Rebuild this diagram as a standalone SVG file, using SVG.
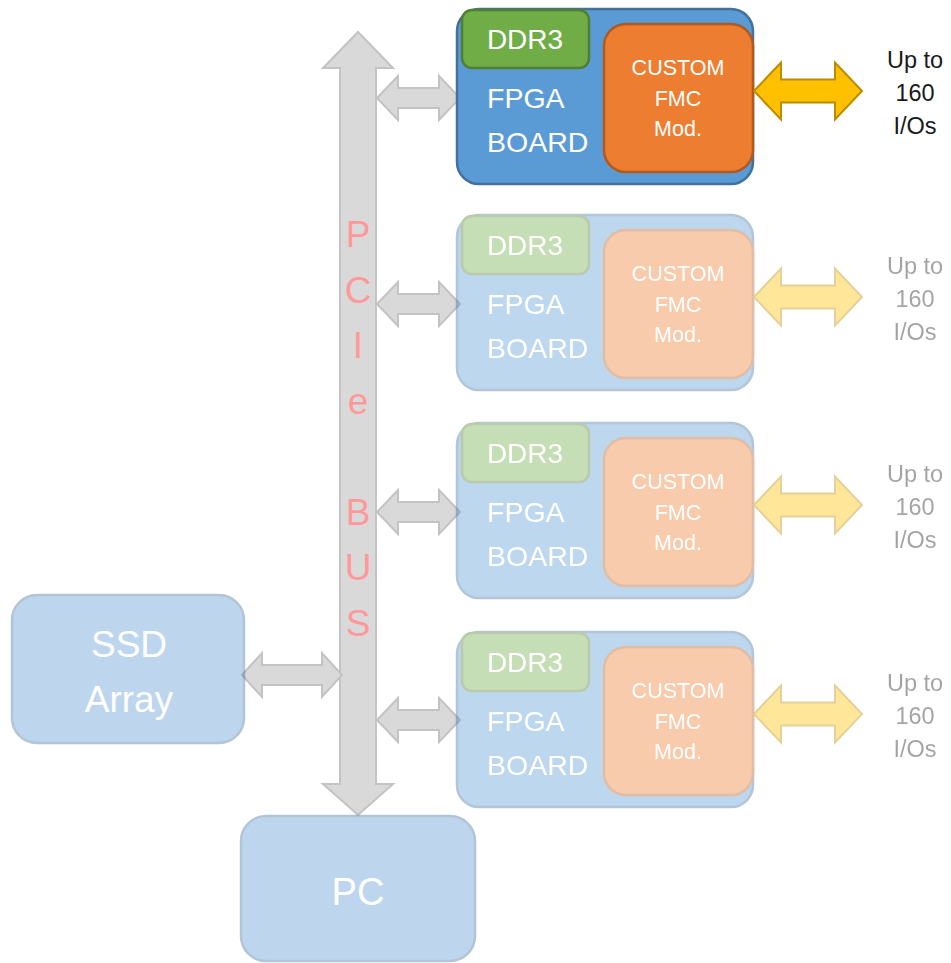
<svg xmlns="http://www.w3.org/2000/svg" width="951" height="963" viewBox="0 0 951 963">
<style>
text{font-family:"Liberation Sans",Arial,sans-serif}
.board{fill:#5b9bd5;stroke:#41719c;stroke-width:2.5}
.ddr{fill:#70ad47;stroke:#507e32;stroke-width:2.5}
.fmc{fill:#ed7d31;stroke:#ae5a21;stroke-width:2.5}
.gray{fill:#d9d9d9;stroke:#c3c3c3;stroke-width:2}
.yel{fill:#ffc000;stroke:#bc8c00;stroke-width:2}
.wt{fill:#ffffff}
.t28{font-size:28.5px}
.t27{font-size:28px}
.t21{font-size:21.5px}
.io{font-size:23.5px;fill:#1a1a1a;text-anchor:middle}
.mid{text-anchor:middle}
.faded{opacity:0.4}
.bus{font-size:37px;fill:#ff9999;text-anchor:middle}
</style>
<defs>
<path id="garrow" d="M0,0 L21,-22 L21,-10 L62,-10 L62,-22 L83,0 L62,22 L62,10 L21,10 L21,22 Z"/>
<path id="sarrow" d="M0,0 L20,-22 L20,-10 L80,-10 L80,-22 L100,0 L80,22 L80,10 L20,10 L20,22 Z"/>
<path id="yarrow" d="M0,0 L27,-28.5 L27,-11.5 L81,-11.5 L81,-28.5 L108,0 L81,28.5 L81,11.5 L27,11.5 L27,28.5 Z"/>
<g id="boardShape">
<rect class="board" x="457" y="0" width="296" height="175" rx="22"/>
<rect class="ddr" x="462" y="1" width="127" height="58" rx="10"/>
<rect class="fmc" x="604" y="15" width="149" height="148" rx="22"/>
<text class="wt t27 mid" x="525" y="40">DDR3</text>
<text class="wt t28" x="487" y="99">FPGA</text>
<text class="wt t28" x="487" y="143">BOARD</text>
<text class="wt t21 mid" x="678" y="66">CUSTOM</text>
<text class="wt t21 mid" x="678" y="97">FMC</text>
<text class="wt t21 mid" x="678" y="127">Mod.</text>
<use href="#yarrow" class="yel" transform="translate(754,82)"/>
<text class="io" x="915" y="59">Up to</text>
<text class="io" x="915" y="92">160</text>
<text class="io" x="915" y="125">I/Os</text>
</g>
</defs>
<g id="connectors">
<path id="pcie-bus" class="gray" d="M358,32 L393,68 L376,68 L376,784 L393,784 L358,815 L323,784 L340,784 L340,68 L323,68 Z"/>
<use href="#garrow" class="gray" transform="translate(377,98)"/>
<use href="#garrow" class="gray" transform="translate(377,304)"/>
<use href="#garrow" class="gray" transform="translate(377,512)"/>
<use href="#garrow" class="gray" transform="translate(377,720)"/>
<use href="#sarrow" class="gray" transform="translate(242,675)"/>
<g id="bus-label">
<text class="bus" x="358" y="247">P</text>
<text class="bus" x="358" y="302.5">C</text>
<text class="bus" x="358" y="358">I</text>
<text class="bus" x="358" y="413.5">e</text>
<text class="bus" x="358" y="524.5">B</text>
<text class="bus" x="358" y="580">U</text>
<text class="bus" x="358" y="635.5">S</text>
</g>
</g>
<g id="board1"><use href="#boardShape" transform="translate(0,9)"/></g>
<g id="board2" class="faded"><use href="#boardShape" transform="translate(0,215)"/></g>
<g id="board3" class="faded"><use href="#boardShape" transform="translate(0,423)"/></g>
<g id="board4" class="faded"><use href="#boardShape" transform="translate(0,632)"/></g>
<g id="ssd" class="faded">
<rect class="board" x="12" y="595" width="232" height="148" rx="25"/>
<text class="wt mid" style="font-size:37px" x="129" y="657">SSD</text>
<text class="wt mid" style="font-size:37px" x="129" y="712">Array</text>
</g>
<g id="pc" class="faded">
<rect class="board" x="241" y="816" width="234" height="145" rx="25"/>
<text class="wt mid" style="font-size:38px" x="358" y="905">PC</text>
</g>
</svg>
